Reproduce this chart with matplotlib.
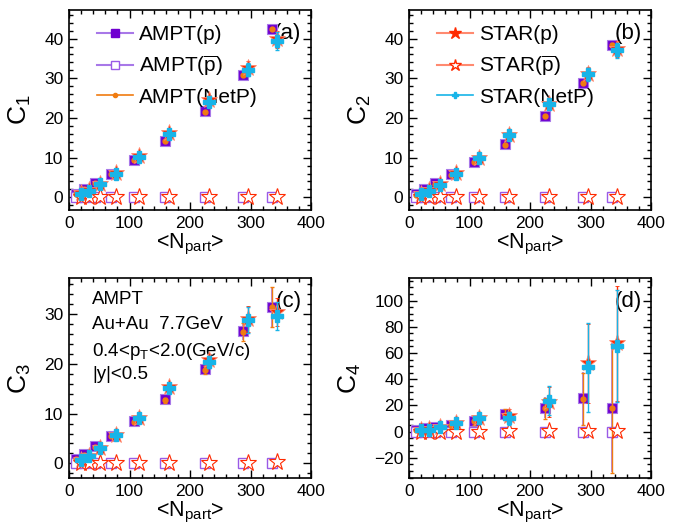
import matplotlib
matplotlib.use("Agg")
import matplotlib.pyplot as plt
from matplotlib.lines import Line2D
from matplotlib.ticker import MultipleLocator, AutoMinorLocator

plt.rcParams['font.family'] = ['Liberation Sans', 'DejaVu Sans']
plt.rcParams['mathtext.fontset'] = 'custom'
plt.rcParams['mathtext.rm'] = 'Liberation Sans'
plt.rcParams['mathtext.it'] = 'Liberation Sans'

# centrality bins, <Npart>
x_ampt = [12, 24, 43, 70, 108, 158, 224, 288, 336]
x_star = [20, 33, 51, 78, 116, 166, 231, 295, 343]

# C1
c1_ampt_p = [0.9, 2.1, 3.7, 6.0, 9.4, 14.2, 21.7, 30.9, 42.5]
c1_ampt_pbar = [0.01, 0.01, 0.02, 0.02, 0.03, 0.03, 0.04, 0.05, 0.05]
c1_ampt_net = [0.85, 2.0, 3.6, 5.9, 9.3, 14.1, 21.6, 30.8, 42.4]
c1_ampt_err = [0.02, 0.03, 0.04, 0.05, 0.08, 0.1, 0.15, 0.2, 0.3]
c1_star_p = [1.0, 1.8, 3.4, 6.1, 10.3, 16.2, 24.4, 32.6, 39.8]
c1_star_pbar = [0.03, 0.04, 0.06, 0.08, 0.1, 0.12, 0.15, 0.17, 0.18]
c1_star_net = [0.95, 1.7, 3.3, 6.0, 10.1, 16.0, 24.1, 32.2, 39.4]
c1_star_err = [0.05, 0.08, 0.1, 0.2, 0.35, 0.6, 1.2, 1.7, 2.2]

# C2
c2_ampt_p = [0.75, 2.0, 3.5, 5.8, 9.0, 13.4, 20.5, 28.9, 38.5]
c2_ampt_pbar = [0.01, 0.01, 0.02, 0.02, 0.03, 0.03, 0.04, 0.05, 0.05]
c2_ampt_net = [0.7, 1.9, 3.4, 5.7, 8.9, 13.3, 20.4, 28.8, 38.4]
c2_ampt_err = [0.03, 0.05, 0.06, 0.08, 0.1, 0.15, 0.2, 0.3, 0.4]
c2_star_p = [0.9, 1.8, 3.3, 6.1, 10.0, 15.8, 23.6, 31.2, 37.4]
c2_star_pbar = [0.03, 0.04, 0.06, 0.08, 0.1, 0.12, 0.15, 0.17, 0.18]
c2_star_net = [0.85, 1.7, 3.2, 6.0, 9.9, 15.6, 23.4, 31.0, 37.0]
c2_star_err = [0.05, 0.1, 0.15, 0.2, 0.4, 0.6, 1.0, 1.6, 2.0]

# C3
c3_ampt_p = [0.9, 1.8, 3.4, 5.6, 8.5, 12.9, 19.0, 26.6, 31.5]
c3_ampt_pbar = [0.01, 0.01, 0.02, 0.02, 0.03, 0.03, 0.04, 0.05, 0.05]
c3_ampt_net = [0.85, 1.7, 3.3, 5.5, 8.4, 12.7, 18.8, 26.4, 31.4]
c3_ampt_err = [0.1, 0.1, 0.2, 0.2, 0.3, 0.5, 0.8, 1.8, 4.0]
c3_star_p = [0.7, 1.5, 3.1, 5.8, 9.2, 15.4, 20.7, 29.0, 30.5]
c3_star_pbar = [0.03, 0.04, 0.06, 0.08, 0.1, 0.12, 0.15, 0.17, 0.18]
c3_star_net = [0.65, 1.4, 3.0, 5.7, 9.1, 15.2, 20.4, 28.9, 29.6]
c3_star_err = [0.1, 0.2, 0.3, 0.4, 0.6, 0.8, 1.2, 2.6, 2.8]

# C4
c4_ampt_p = [1.3, 2.5, 3.8, 5.1, 8.4, 13.5, 18.3, 25.4, 18.3]
c4_ampt_pbar = [0.01, 0.01, 0.02, 0.02, 0.03, 0.03, 0.04, 0.05, 0.05]
c4_ampt_net = [1.2, 2.4, 3.6, 5.0, 8.3, 13.0, 18.0, 25.0, 17.8]
c4_ampt_err = [0.8, 1.0, 1.5, 2.0, 3.0, 4.0, 8.0, 20.0, 49.0]
c4_star_p = [1.0, 1.8, 3.5, 6.9, 10.2, 12.0, 22.4, 52.2, 67.4]
c4_star_pbar = [0.03, 0.04, 0.06, 0.08, 0.1, 0.12, 0.15, 0.17, 0.18]
c4_star_net = [0.9, 1.6, 3.2, 6.5, 10.2, 10.2, 23.7, 49.1, 65.4]
c4_star_p_err = [1.0, 1.5, 2.0, 3.0, 4.0, 5.0, 11.5, 30.0, 44.0]
c4_star_net_err = [1.0, 1.5, 2.0, 3.0, 4.0, 5.0, 11.0, 34.0, 43.0]

purple = '#7000d0'
purple_lt = '#a878e8'
orange = '#f07c10'
red = '#ff2a00'
red_lt = '#ff8a70'
cyan = '#18b4e8'

panels = [
    ('C$_1$', '(a)', (-3.2, 47.2), 10, 5, c1_ampt_p, c1_ampt_pbar, c1_ampt_net, c1_ampt_err,
     c1_star_p, c1_star_pbar, c1_star_net, c1_star_err, c1_star_err),
    ('C$_2$', '(b)', (-3.2, 47.2), 10, 5, c2_ampt_p, c2_ampt_pbar, c2_ampt_net, c2_ampt_err,
     c2_star_p, c2_star_pbar, c2_star_net, c2_star_err, c2_star_err),
    ('C$_3$', '(c)', (-3.0, 37.2), 10, 5, c3_ampt_p, c3_ampt_pbar, c3_ampt_net, c3_ampt_err,
     c3_star_p, c3_star_pbar, c3_star_net, c3_star_err, c3_star_err),
    ('C$_4$', '(d)', (-35.6, 117), 20, 4, c4_ampt_p, c4_ampt_pbar, c4_ampt_net, c4_ampt_err,
     c4_star_p, c4_star_pbar, c4_star_net, c4_star_p_err, c4_star_net_err),
]

positions = [
    [0.1015, 0.6015, 0.356, 0.3795],
    [0.6015, 0.6015, 0.356, 0.3795],
    [0.1015, 0.0924, 0.356, 0.3795],
    [0.6015, 0.0924, 0.356, 0.3795],
]

fig = plt.figure(figsize=(6.8, 5.27), dpi=100)

for i, p in enumerate(panels):
    (ylab, tag, ylim, ymaj, ysub, a_p, a_pb, a_n, a_err,
     s_p, s_pb, s_n, s_perr, s_nerr) = p
    ax = fig.add_axes(positions[i])

    # AMPT
    ax.errorbar(x_ampt, a_p, yerr=a_err, fmt='s', ms=7.5, mfc=purple, mec=purple_lt,
                mew=0.8, ecolor=purple_lt, elinewidth=1.2, capsize=0, zorder=3)
    ax.errorbar(x_ampt, a_pb, fmt='s', ms=7.5, mfc='white', mec='#9a5ae6',
                mew=1.0, zorder=3)
    ax.errorbar(x_ampt, a_n, yerr=a_err, fmt='o', ms=3.5, mfc=orange, mec=orange,
                ecolor=orange, elinewidth=1.0, capsize=1.5, zorder=4)
    # STAR
    ax.errorbar(x_star, s_p, yerr=s_perr, fmt='*', ms=12.5, mfc=red, mec=red_lt,
                mew=0.6, ecolor=red, elinewidth=1.0, capsize=1.5, zorder=5)
    ax.errorbar(x_star, s_pb, fmt='*', ms=12.5, mfc='white', mec=red,
                mew=0.8, zorder=5)
    ax.errorbar(x_star, s_n, yerr=s_nerr, fmt='P', ms=8, mfc=cyan, mec=cyan,
                ecolor=cyan, elinewidth=1.0, capsize=1.5, zorder=6)

    ax.set_xlim(0, 400)
    ax.set_ylim(*ylim)
    ax.xaxis.set_major_locator(MultipleLocator(100))
    ax.xaxis.set_minor_locator(MultipleLocator(20))
    ax.yaxis.set_major_locator(MultipleLocator(ymaj))
    ax.yaxis.set_minor_locator(AutoMinorLocator(ysub))
    ax.tick_params(which='both', direction='in', top=True, right=True,
                   labelsize=12.5, width=1.0)
    ax.tick_params(which='major', length=6, pad=4)
    ax.tick_params(which='minor', length=3)
    for sp in ax.spines.values():
        sp.set_linewidth(1.2)

    ax.set_xlabel('<N$_{\\mathrm{part}}$>', fontsize=15.5, labelpad=1)
    ax.set_ylabel(ylab, fontsize=19, labelpad=8)
    ax.text(0.96, 0.935, tag, transform=ax.transAxes, ha='right', va='top', fontsize=16)

# legends
ax_a, ax_b, ax_c, ax_d = fig.axes
h_a = [
    Line2D([], [], color=purple_lt, lw=1.5, marker='s', ms=5.5, mfc=purple, mec=purple),
    Line2D([], [], color=purple_lt, lw=1.5, marker='s', ms=5.5, mfc='white', mec='#9a5ae6'),
    Line2D([], [], color=orange, lw=1.2, marker='o', ms=3, mfc=orange, mec=orange),
]
ax_a.legend(h_a, ['AMPT(p)', 'AMPT($\\overline{\\mathrm{p}}$)', 'AMPT(NetP)'],
            loc='upper left', bbox_to_anchor=(0.08, 0.965), frameon=False, fontsize=15,
            handlelength=1.75, handletextpad=0.3, labelspacing=0.45, borderaxespad=0)
h_b = [
    Line2D([], [], color=red_lt, lw=1.5, marker='*', ms=9, mfc=red, mec=red),
    Line2D([], [], color=red_lt, lw=1.5, marker='*', ms=9, mfc='white', mec=red),
    Line2D([], [], color=cyan, lw=1.2, marker='P', ms=5, mfc=cyan, mec=cyan),
]
ax_b.legend(h_b, ['STAR(p)', 'STAR($\\overline{\\mathrm{p}}$)', 'STAR(NetP)'],
            loc='upper left', bbox_to_anchor=(0.08, 0.965), frameon=False, fontsize=15,
            handlelength=1.75, handletextpad=0.3, labelspacing=0.45, borderaxespad=0)

info = ['AMPT', 'Au+Au  7.7GeV', '0.4<p$_{\\mathrm{T}}$<2.0(GeV/c)', '|y|<0.5']
for k, s in enumerate(info):
    ax_c.text(0.095, 0.935 - k * 0.125, s, transform=ax_c.transAxes, fontsize=13.5,
              ha='left', va='top')

fig.savefig('out.png', dpi=100)
